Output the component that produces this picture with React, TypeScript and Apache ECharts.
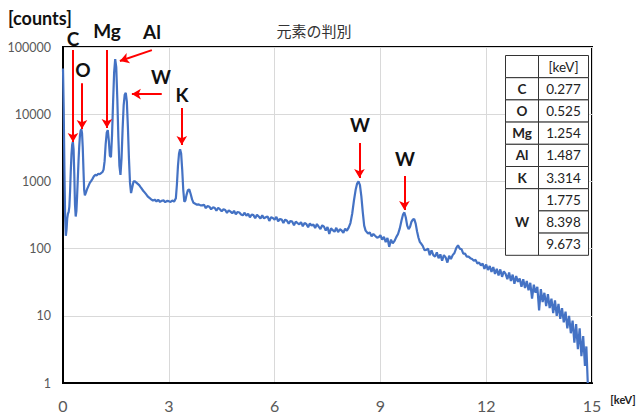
import React, { useEffect, useRef } from "react";
import * as echarts from "echarts";

// Spectrum: energy [keV] and counts
const energies = [
  0.0, 0.02, 0.04, 0.06, 0.08, 0.1, 0.12, 0.14, 0.16, 0.18, 0.2, 0.22, 0.24, 0.26, 0.28, 0.3, 0.32, 0.34, 0.36, 0.38,
  0.4, 0.42, 0.44, 0.46, 0.48, 0.5, 0.52, 0.54, 0.56, 0.58, 0.6, 0.62, 0.65, 0.68, 0.72, 0.76, 0.8, 0.84, 0.88, 0.92,
  0.96, 1.0, 1.04, 1.08, 1.12, 1.15, 1.18, 1.21, 1.24, 1.27, 1.3, 1.33, 1.36, 1.39, 1.42, 1.45, 1.48, 1.51, 1.54, 1.57,
  1.6, 1.63, 1.66, 1.69, 1.72, 1.75, 1.78, 1.81, 1.84, 1.87, 1.9, 1.93, 1.96, 2.0, 2.04, 2.08, 2.12, 2.16, 2.2, 2.24,
  2.28, 2.32, 2.36, 2.4, 2.45, 2.5, 2.55, 2.6, 2.65, 2.7, 2.75, 2.8, 2.85, 2.9, 2.95, 3.0, 3.05, 3.1, 3.15, 3.2,
  3.23, 3.26, 3.29, 3.32, 3.35, 3.38, 3.41, 3.44, 3.47, 3.5, 3.54, 3.58, 3.62, 3.66, 3.7, 3.75, 3.8, 3.85, 3.9,
  3.95, 4.0, 4.05, 4.1, 4.15, 4.2, 4.25, 4.3, 4.35, 4.4, 4.45, 4.5, 4.55, 4.6, 4.65, 4.7, 4.75, 4.8, 4.85, 4.9,
  4.95, 5.0, 5.05, 5.1, 5.15, 5.2, 5.25, 5.3, 5.35, 5.4, 5.45, 5.5, 5.55, 5.6, 5.65, 5.7, 5.75, 5.8, 5.85, 5.9,
  5.95, 6.0, 6.05, 6.1, 6.15, 6.2, 6.25, 6.3, 6.35, 6.4, 6.45, 6.5, 6.55, 6.6, 6.65, 6.7, 6.75, 6.8, 6.85, 6.9,
  6.95, 7.0, 7.05, 7.1, 7.15, 7.2, 7.25, 7.3, 7.35, 7.4, 7.45, 7.5, 7.55, 7.6, 7.65, 7.7, 7.75, 7.8, 7.85, 7.9,
  7.95, 8.0, 8.05, 8.1, 8.15, 8.2, 8.25, 8.3, 8.34, 8.38, 8.42, 8.46, 8.5, 8.54, 8.58, 8.62,
  8.65, 8.7, 8.75, 8.8, 8.85, 8.9, 8.95, 9.0, 9.05, 9.1, 9.15, 9.2, 9.25, 9.3, 9.35, 9.4, 9.45,
  9.5, 9.55, 9.6, 9.64, 9.68, 9.72, 9.76, 9.8, 9.84, 9.88, 9.92, 9.96, 10.0, 10.04, 10.08, 10.12, 10.16,
  10.2, 10.25, 10.3, 10.35, 10.4, 10.45, 10.5, 10.55, 10.6, 10.65, 10.7, 10.75, 10.8, 10.85, 10.9, 10.95,
  11.0, 11.05, 11.1, 11.15, 11.2, 11.25, 11.3, 11.35, 11.4, 11.45, 11.5, 11.55, 11.6, 11.65, 11.7, 11.75,
  11.8, 11.85, 11.9, 11.95, 12.0, 12.05, 12.1, 12.15, 12.2, 12.25, 12.3, 12.35, 12.4, 12.45, 12.5, 12.55,
  12.6, 12.65, 12.7, 12.75, 12.8, 12.85, 12.9, 12.95, 13.0, 13.05, 13.1, 13.15, 13.2, 13.25, 13.3, 13.35,
  13.4, 13.45, 13.5, 13.55, 13.6, 13.65, 13.7, 13.75, 13.8, 13.85, 13.9, 13.95, 14.0, 14.05, 14.1, 14.15,
  14.2, 14.25, 14.3, 14.35, 14.4, 14.45, 14.5, 14.55, 14.6, 14.65, 14.7, 14.75, 14.8, 14.84, 14.88,
];

const counts = [
  48000, 12000, 1500, 300, 155, 190, 280, 330, 350, 420, 700, 1400, 2500, 3500, 3900, 3000, 1300, 450, 300, 360,
  600, 1100, 2000, 3300, 4800, 5700, 6000, 5200, 3200, 1500, 750, 620, 680, 760, 850, 950, 1020, 1100, 1200, 1250,
  1230, 1300, 1280, 1330, 1380, 1500, 2000, 3600, 5300, 5800, 4000, 2400, 2300, 4800, 15000, 42000, 66000, 50000, 17000, 4500,
  1700, 1250, 2200, 6000, 13500, 19500, 20800, 15500, 6500, 2200, 950, 670, 800, 1000, 1000, 960, 920, 880, 820, 770,
  720, 680, 640, 600, 570, 540, 520, 535, 505, 532, 495, 515, 522, 490, 512, 508, 495, 520, 500, 560,
  900, 1700, 2600, 3000, 2600, 1500, 750, 500, 520, 620, 740, 760, 650, 540, 480, 465, 450, 455, 440,
  440, 450, 400, 430, 420, 385, 410, 405, 365, 405, 385, 358, 385, 375, 340, 372, 355, 335, 365, 325,
  350, 345, 322, 312, 342, 308, 330, 292, 322, 315, 282, 318, 300, 280, 312, 282, 292, 302, 258, 292,
  285, 270, 296, 255, 276, 270, 240, 270, 260, 235, 258, 252, 222, 252, 240, 230, 248, 215, 240, 232,
  208, 236, 220, 228, 202, 232, 212, 196, 222, 212, 185, 210, 165, 200, 188, 178, 204, 176, 194, 186,
  172, 198, 185, 205, 240, 330, 520, 760, 930, 1000, 880, 600, 350, 220, 185, 175,
  168, 174, 152, 165, 155, 146, 148, 158, 136, 150, 125, 144, 106, 136, 120, 130, 148,
  165, 200, 265, 320, 345, 290, 220, 195, 210, 250, 270, 275, 235, 180, 145, 125, 118,
  110, 95, 96, 100, 80, 94, 80, 76, 88, 72, 82, 66, 80, 74, 62, 78,
  70, 80, 86, 102, 112, 100, 98, 84, 84, 76, 76, 72, 70, 66, 68, 60,
  62, 56, 60, 50, 58, 48, 55, 45, 53, 42, 50, 40, 49, 38, 46, 42,
  35, 44, 33, 41, 30, 39, 32, 36, 27, 35, 26, 33, 24, 31, 18, 29,
  22, 27, 12, 25, 16, 22, 14, 21, 13, 18, 11, 17, 10, 15, 9, 13,
  8, 11.5, 6.5, 10, 5.5, 8.5, 4, 7.5, 3.2, 6.5, 2.5, 5, 1.8, 3.5, 1,
];

// Table of element lines
const elementNames = ["C", "O", "Mg", "Al", "K", "W"];
const elementLines = ["0.277", "0.525", "1.254", "1.487", "3.314", "1.775", "8.398", "9.673"];

// Annotation arrows (data coordinates: [keV, counts])
const arrowStarts = [
  [0.283, 90000], [0.538, 29000], [1.245, 90000], [2.52, 90000],
  [2.8, 19900], [3.368, 12400], [8.406, 3730], [9.68, 1200],
];
const arrowEnds = [
  [0.283, 3850], [0.538, 6030], [1.245, 6230], [1.613, 61900],
  [1.953, 19900], [3.368, 3480], [8.406, 1125], [9.68, 375],
];
const peakLabels = ["C", "O", "Mg", "Al", "W", "K", "W", "W"];
const peakLabelPos = [
  [73, 38], [83, 69], [107, 30], [152, 31], [161, 76], [182, 94], [360, 124], [405, 158],
];

const FONT = "Lato, 'Liberation Sans', sans-serif";

export default function App() {
  const ref = useRef<HTMLDivElement>(null);

  useEffect(() => {
    if (!ref.current) return;
    const chart = echarts.init(ref.current, undefined, { renderer: "svg" });

    const seriesData = energies.map((e, i) => [e, counts[i]]);

    const graphics: any[] = [];
    graphics.push({
      type: "text", x: 314, y: 30, z: 100,
      style: { text: "元素の判別", fill: "#333", font: "15px 'Noto Sans CJK JP'", textAlign: "center", verticalAlign: "middle" },
    });
    graphics.push({
      type: "text", x: 8, y: 18, z: 100,
      style: { text: "[counts]", fill: "#111", font: `bold 18px ${FONT}`, textAlign: "left", verticalAlign: "middle" },
    });
    graphics.push({
      type: "text", x: 623, y: 399, z: 100,
      style: { text: "[keV]", fill: "#222", font: `bold 11px ${FONT}`, textAlign: "center", verticalAlign: "middle" },
    });
    peakLabels.forEach((t, i) => {
      graphics.push({
        type: "text", x: peakLabelPos[i][0], y: peakLabelPos[i][1], z: 100,
        style: { text: t, fill: "#111", font: `bold 19px ${FONT}`, textAlign: "center", verticalAlign: "middle" },
      });
    });

    // table
    const tx0 = 505.5, tx1 = 538.5, tx2 = 588.5;
    const rowH = 22.2;
    const ty0 = 55.5;
    const cellStyle = { fill: "#fff", stroke: "#333", lineWidth: 1 };
    const textStyle = (t: string, bold: boolean) => ({
      text: t, fill: "#222", font: `${bold ? "bold " : ""}13.5px ${FONT}`, textAlign: "center", verticalAlign: "middle",
    });
    graphics.push({ type: "rect", z: 100, shape: { x: tx0, y: ty0, width: tx1 - tx0, height: rowH }, style: cellStyle });
    graphics.push({ type: "rect", z: 100, shape: { x: tx1, y: ty0, width: tx2 - tx1, height: rowH }, style: cellStyle });
    graphics.push({ type: "text", z: 101, x: (tx1 + tx2) / 2, y: ty0 + rowH / 2, style: textStyle("[keV]", false) });
    for (let i = 0; i < 5; i++) {
      const y = ty0 + rowH * (i + 1);
      graphics.push({ type: "rect", z: 100, shape: { x: tx0, y, width: tx1 - tx0, height: rowH }, style: cellStyle });
      graphics.push({ type: "rect", z: 100, shape: { x: tx1, y, width: tx2 - tx1, height: rowH }, style: cellStyle });
      graphics.push({ type: "text", z: 101, x: (tx0 + tx1) / 2, y: y + rowH / 2, style: textStyle(elementNames[i], true) });
      graphics.push({ type: "text", z: 101, x: (tx1 + tx2) / 2, y: y + rowH / 2, style: textStyle(elementLines[i], false) });
    }
    const wy = ty0 + rowH * 6;
    graphics.push({ type: "rect", z: 100, shape: { x: tx0, y: wy, width: tx1 - tx0, height: rowH * 3 }, style: cellStyle });
    graphics.push({ type: "text", z: 101, x: (tx0 + tx1) / 2, y: wy + rowH * 1.5, style: textStyle(elementNames[5], true) });
    for (let j = 0; j < 3; j++) {
      const y = wy + rowH * j;
      graphics.push({ type: "rect", z: 100, shape: { x: tx1, y, width: tx2 - tx1, height: rowH }, style: cellStyle });
      graphics.push({ type: "text", z: 101, x: (tx1 + tx2) / 2, y: y + rowH / 2, style: textStyle(elementLines[5 + j], false) });
    }

    chart.setOption({
      animation: false,
      backgroundColor: "#fff",
      grid: { left: 63, right: 48, top: 47, bottom: 33, show: true, borderColor: "#000", borderWidth: 2, backgroundColor: "transparent" },
      xAxis: {
        type: "value", min: 0, max: 15, interval: 3,
        axisLine: { show: true, lineStyle: { color: "#000", width: 2 } },
        axisTick: { show: false },
        splitLine: { show: true, lineStyle: { color: "#d9d9d9", width: 1 } },
        axisLabel: { fontSize: 16, color: "#595959", fontFamily: FONT, margin: 14 },
      },
      yAxis: {
        type: "log", logBase: 10, min: 1, max: 100000,
        axisLine: { show: true, lineStyle: { color: "#000", width: 2 } },
        axisTick: { show: false },
        splitLine: { show: true, lineStyle: { color: "#d9d9d9", width: 1 } },
        minorTick: { show: false },
        axisLabel: {
          fontSize: 12.5, color: "#595959", fontFamily: FONT, margin: 12,
          formatter: (v: number) => String(Math.round(v)),
        },
      },
      series: [
        {
          type: "line",
          data: seriesData,
          showSymbol: false,
          symbol: "none",
          lineStyle: { color: "#4472C4", width: 2.2 },
          z: 3,
          markLine: {
            silent: true,
            symbol: ["none", "arrow"],
            symbolSize: [8, 9],
            label: { show: false },
            lineStyle: { color: "#ff0000", width: 2, type: "solid" },
            data: arrowStarts.map((s, i) => [{ coord: s }, { coord: arrowEnds[i] }]),
          },
        },
      ],
      graphic: graphics,
    });

    return () => chart.dispose();
  }, []);

  return <div ref={ref} style={{ position: "absolute", left: 0, top: 0, width: 640, height: 416 }} />;
}
